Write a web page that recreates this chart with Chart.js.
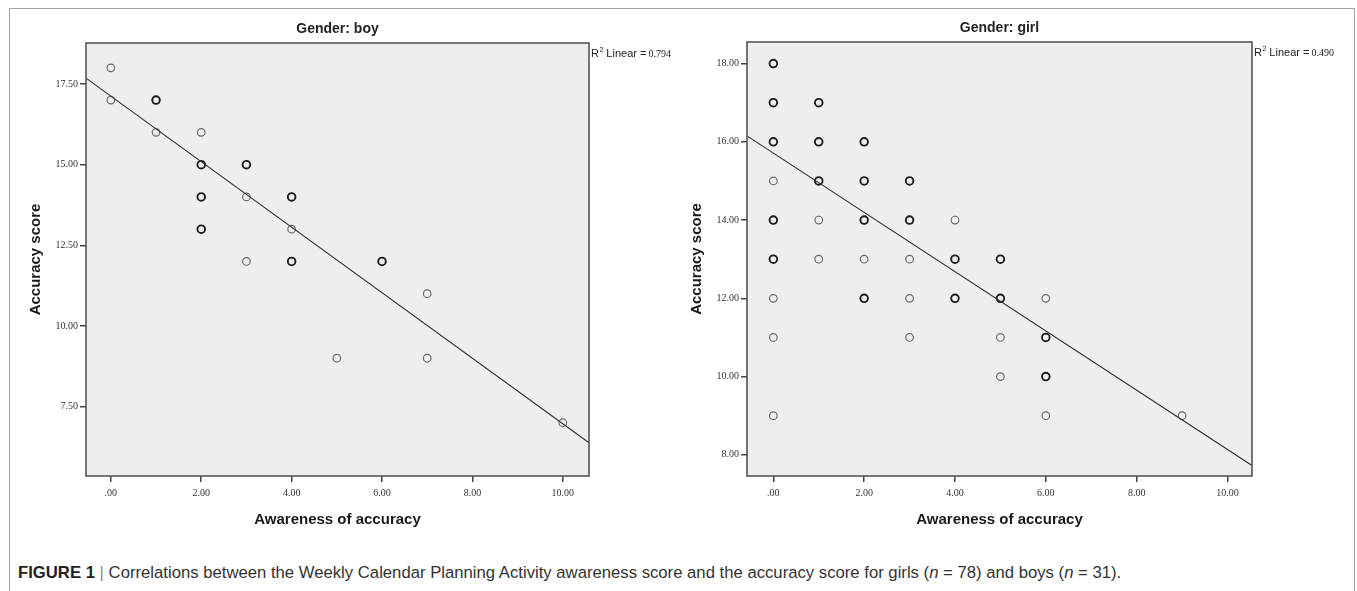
<!DOCTYPE html>
<html lang="en">
<head>
<meta charset="UTF-8">
<title>Figure 1</title>
<script src="https://cdn.jsdelivr.net/npm/chart.js"></script>
<style>
  body { margin: 0; background: #fff; width: 1357px; height: 591px; overflow: hidden; position: relative; font-family: "Liberation Sans", Arial, sans-serif; }
  #frame { position: absolute; left: 9px; top: 8px; width: 1344px; height: 640px; border: 1px solid #a3a3a3; }
  #boyChart { position: absolute; left: 0; top: 0; }
  #girlChart { position: absolute; left: 668px; top: 0; }
  #caption { position: absolute; left: 18px; top: 563px; font-size: 16.7px; color: #333; white-space: nowrap; }
  #caption b { color: #222; }
  #caption .bar { color: #888; }
</style>
</head>
<body>
<div id="frame"></div>
<canvas id="boyChart" width="690" height="545"></canvas>
<canvas id="girlChart" width="689" height="545"></canvas>
<div id="caption"><b>FIGURE 1</b> <span class="bar">|</span> Correlations between the Weekly Calendar Planning Activity awareness score and the accuracy score for girls (<i>n</i> = 78) and boys (<i>n</i> = 31).</div>

<script>
    // tick labels shared by both panels
    const xTickVals = [0, 2, 4, 6, 8, 10];
    const xTickLabels = ['.00', '2.00', '4.00', '6.00', '8.00', '10.00'];
    const boyYTickVals = [7.5, 10, 12.5, 15, 17.5];
    const girlYTickVals = [8, 10, 12, 14, 16, 18];

    // boys: unique points + how many cases sit on each
    const boyAwareness = [0, 0, 1, 1, 2, 2, 2, 2, 3, 3, 3, 4, 4, 4, 5, 6, 7, 7, 10];
    const boyAccuracy  = [18, 17, 17, 16, 16, 15, 14, 13, 15, 14, 12, 14, 13, 12, 9, 12, 11, 9, 7];
    const boyCount     = [1, 1, 3, 1, 1, 3, 2, 2, 3, 1, 1, 3, 1, 2, 1, 2, 1, 1, 1];

    // girls
    const girlAwareness = [0, 0, 0, 0, 0, 0, 0, 0, 0, 1, 1, 1, 1, 1, 2, 2, 2, 2, 2, 3, 3, 3, 3, 3, 4, 4, 4, 5, 5, 5, 5, 6, 6, 6, 6, 9];
    const girlAccuracy  = [18, 17, 16, 15, 14, 13, 12, 11, 9, 17, 16, 15, 14, 13, 16, 15, 14, 13, 12, 15, 14, 13, 12, 11, 14, 13, 12, 13, 12, 11, 10, 12, 11, 10, 9, 9];
    const girlCount     = [3, 3, 4, 1, 3, 3, 1, 1, 1, 3, 3, 4, 1, 1, 3, 3, 3, 1, 3, 3, 3, 1, 1, 1, 1, 3, 3, 3, 3, 1, 1, 1, 3, 3, 1, 1];

    // fit line end points (read at the plot edges)
    const boyFitX = [-0.55, 10.58];
    const boyFitY = [17.68, 6.38];
    const girlFitX = [-0.58, 10.54];
    const girlFitY = [16.15, 7.73];

    // axis ranges
    const boyXRange = [-0.55, 10.58];
    const boyYRange = [5.35, 18.77];
    const girlXRange = [-0.58, 10.54];
    const girlYRange = [7.46, 18.55];

    const boyR2 = '0.794';
    const girlR2 = '0.490';

    // background, frame, panel title and R2 label
    const panelDecor = {
        id: 'panelDecor',
        beforeDraw(chart) {
            const a = chart.chartArea;
            const ctx = chart.ctx;
            ctx.save();
            ctx.fillStyle = '#eeeeee';
            ctx.fillRect(a.left, a.top, a.right - a.left, a.bottom - a.top);
            ctx.restore();
        },
        afterDraw(chart, args, opts) {
            const a = chart.chartArea;
            const ctx = chart.ctx;
            ctx.save();
            ctx.strokeStyle = '#555';
            ctx.lineWidth = 1.6;
            ctx.strokeRect(a.left, a.top, a.right - a.left, a.bottom - a.top);

            ctx.fillStyle = '#222';
            ctx.font = 'bold 14px "Liberation Sans", Arial, sans-serif';
            ctx.textAlign = 'center';
            ctx.textBaseline = 'middle';
            ctx.fillText(opts.title, (a.left + a.right) / 2, a.top - 14);

            // R2 Linear = x.xxx
            let x = a.right + 2;
            const y = a.top + 11;
            ctx.textAlign = 'left';
            ctx.font = '11px "Liberation Sans", Arial, sans-serif';
            ctx.fillText('R', x, y);
            x += ctx.measureText('R').width;
            ctx.font = '7px "Liberation Sans", Arial, sans-serif';
            ctx.fillText('2', x + 0.5, y - 4);
            x += ctx.measureText('2').width + 3.5;
            ctx.font = '11px "Liberation Sans", Arial, sans-serif';
            ctx.fillText('Linear =', x, y);
            x += ctx.measureText('Linear =').width + 2;
            ctx.font = '10px "Liberation Serif", serif';
            ctx.fillText(opts.r2, x, y + 0.5);
            ctx.restore();
        }
    };

    function makePanel(canvasId, p) {
        const ctx = document.getElementById(canvasId).getContext('2d');
        const pts = p.xs.map((v, i) => ({ x: v, y: p.ys[i] }));
        const fit = p.fitX.map((v, i) => ({ x: v, y: p.fitY[i] }));
        return new Chart(ctx, {
            type: 'scatter',
            data: {
                datasets: [{
                    type: 'line',
                    data: fit,
                    borderColor: '#333',
                    borderWidth: 1.1,
                    pointRadius: 0,
                    fill: false
                }, {
                    type: 'scatter',
                    data: pts,
                    pointRadius: 3.8,
                    pointBackgroundColor: 'rgba(0,0,0,0)',
                    pointBorderColor: c => p.counts[c.dataIndex] > 1 ? '#1c1c1c' : '#6b6b6b',
                    pointBorderWidth: c => p.counts[c.dataIndex] > 1 ? 1.9 : 1.2
                }]
            },
            options: {
                responsive: false,
                animation: false,
                layout: { padding: { left: 0, top: p.top, right: p.right, bottom: 0 } },
                plugins: {
                    legend: { display: false },
                    tooltip: { enabled: false },
                    panelDecor: { title: p.title, r2: p.r2 }
                },
                scales: {
                    x: {
                        type: 'linear',
                        min: p.xRange[0],
                        max: p.xRange[1],
                        afterBuildTicks: s => { s.ticks = xTickVals.map(v => ({ value: v })); },
                        afterFit: s => { s.height = 69; },
                        ticks: {
                            callback: (v, i) => xTickLabels[i],
                            font: { family: 'Liberation Serif', size: 10 },
                            color: '#333',
                            padding: 5,
                            maxRotation: 0
                        },
                        grid: { display: true, drawOnChartArea: false, drawTicks: true, tickLength: 6, color: '#444', lineWidth: 1.5 },
                        border: { display: false },
                        title: {
                            display: true,
                            text: 'Awareness of accuracy',
                            font: { family: 'Liberation Sans', size: 15, weight: 'bold' },
                            color: '#1a1a1a',
                            padding: { top: 0, bottom: 16 }
                        }
                    },
                    y: {
                        type: 'linear',
                        min: p.yRange[0],
                        max: p.yRange[1],
                        afterBuildTicks: s => { s.ticks = p.yTicks.map(v => ({ value: v })); },
                        afterFit: s => { s.width = p.yWidth; },
                        ticks: {
                            callback: v => v.toFixed(2),
                            font: { family: 'Liberation Serif', size: 10 },
                            color: '#333',
                            padding: 2
                        },
                        grid: { display: true, drawOnChartArea: false, drawTicks: true, tickLength: 6, color: '#444', lineWidth: 1.5 },
                        border: { display: false },
                        title: {
                            display: true,
                            text: 'Accuracy score',
                            font: { family: 'Liberation Sans', size: 15, weight: 'bold' },
                            color: '#1a1a1a',
                            padding: { top: p.titlePad, bottom: 0 }
                        }
                    }
                }
            },
            plugins: [panelDecor]
        });
    }

    makePanel('boyChart', {
        xs: boyAwareness, ys: boyAccuracy, counts: boyCount,
        fitX: boyFitX, fitY: boyFitY,
        xRange: boyXRange, yRange: boyYRange, yTicks: boyYTickVals,
        title: 'Gender: boy', r2: boyR2,
        top: 43, right: 101, yWidth: 86, titlePad: 27
    });

    makePanel('girlChart', {
        xs: girlAwareness, ys: girlAccuracy, counts: girlCount,
        fitX: girlFitX, fitY: girlFitY,
        xRange: girlXRange, yRange: girlYRange, yTicks: girlYTickVals,
        title: 'Gender: girl', r2: girlR2,
        top: 42, right: 105, yWidth: 79, titlePad: 20
    });
</script>
</body>
</html>
